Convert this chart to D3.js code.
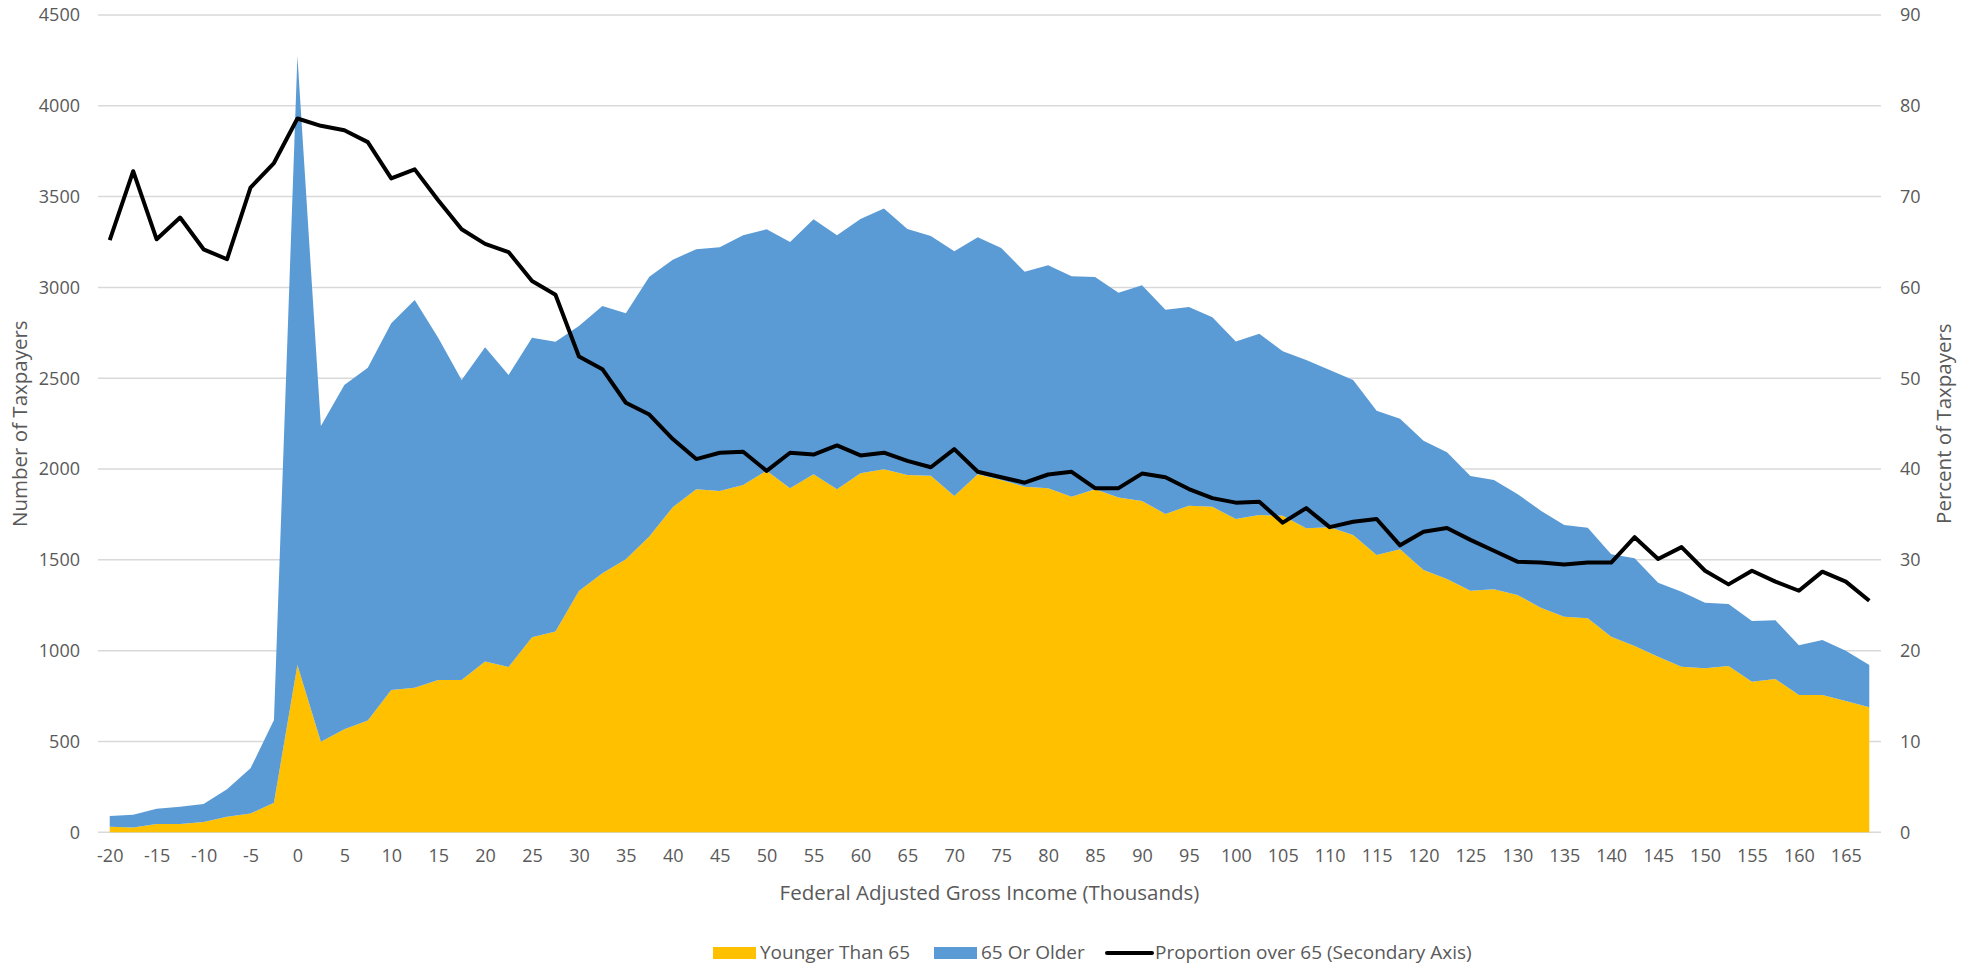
<!DOCTYPE html>
<html>
<head>
<meta charset="utf-8">
<script src="https://cdn.jsdelivr.net/npm/d3@7/dist/d3.min.js"></script>
<style>
body { margin: 0; background: #fff; }
text { font-family: "Open Sans", Lato, sans-serif; fill: #595959; }
</style>
</head>
<body>
<script>
"use strict";

// income brackets, in thousands
let income = [-20, -17.5, -15, -12.5, -10, -7.5, -5, -2.5, 0, 2.5, 5, 7.5, 10, 12.5, 15, 17.5,
    20, 22.5, 25, 27.5, 30, 32.5, 35, 37.5, 40, 42.5, 45, 47.5, 50, 52.5, 55, 57.5,
    60, 62.5, 65, 67.5, 70, 72.5, 75, 77.5, 80, 82.5, 85, 87.5, 90, 92.5, 95, 97.5,
    100, 102.5, 105, 107.5, 110, 112.5, 115, 117.5, 120, 122.5, 125, 127.5, 130, 132.5,
    135, 137.5, 140, 142.5, 145, 147.5, 150, 152.5, 155, 157.5, 160, 162.5, 165, 167.5];

let tickLabels = [-20, -15, -10, -5, 0, 5, 10, 15, 20, 25, 30, 35, 40, 45, 50, 55, 60, 65, 70,
    75, 80, 85, 90, 95, 100, 105, 110, 115, 120, 125, 130, 135, 140, 145, 150, 155, 160, 165];

let younger = [31, 27, 46, 46, 57, 86, 103, 163, 921, 499,
    567, 615, 784, 796, 839, 839, 941, 910, 1074, 1105,
    1329, 1426, 1503, 1628, 1790, 1889, 1879, 1912, 1991, 1894,
    1971, 1889, 1977, 1999, 1967, 1963, 1852, 1971, 1940, 1903,
    1894, 1848, 1889, 1844, 1824, 1753, 1798, 1792, 1725, 1747,
    1743, 1674, 1679, 1637, 1527, 1558, 1444, 1395, 1330, 1338,
    1307, 1237, 1187, 1178, 1077, 1026, 967, 912, 903, 916,
    829, 844, 756, 756, 723, 688];

let older = [59, 70, 84, 95, 99, 151, 249, 455, 3353, 1738,
    1896, 1943, 2019, 2135, 1884, 1651, 1729, 1608, 1649, 1596,
    1459, 1472, 1355, 1431, 1363, 1321, 1342, 1375, 1329, 1356,
    1404, 1398, 1400, 1435, 1355, 1320, 1347, 1305, 1277, 1184,
    1228, 1213, 1169, 1127, 1188, 1124, 1094, 1044, 978, 998,
    905, 926, 866, 853, 794, 719, 712, 697, 632, 602,
    556, 534, 505, 499, 454, 483, 407, 413, 361, 341,
    334, 323, 274, 303, 277, 233];

// percent of taxpayers 65 or older
let proportion = [65.2, 72.8, 65.3, 67.7, 64.2, 63.1, 71.0, 73.7, 78.6, 77.8,
    77.3, 76.0, 72.0, 73.0, 69.6, 66.4, 64.8, 63.9, 60.7, 59.2,
    52.4, 51.0, 47.3, 46.0, 43.3, 41.1, 41.8, 41.9, 39.8, 41.8,
    41.6, 42.6, 41.5, 41.8, 40.9, 40.2, 42.2, 39.7, 39.1, 38.5,
    39.4, 39.7, 37.9, 37.9, 39.5, 39.1, 37.8, 36.8, 36.3, 36.4,
    34.1, 35.7, 33.6, 34.2, 34.5, 31.6, 33.1, 33.5, 32.2, 31.0,
    29.8, 29.7, 29.5, 29.7, 29.7, 32.5, 30.1, 31.4, 28.8, 27.3,
    28.8, 27.6, 26.6, 28.7, 27.6, 25.5];

let seriesNames = ['Younger Than 65', '65 Or Older', 'Proportion over 65 (Secondary Axis)'];
let colors = ['#ffc000', '#5b9bd5', '#000000'];

let width = 1975, height = 969;
let plot = {left: 98, right: 1881, top: 15, bottom: 832.3};

let svg = d3.select('body')
    .append('svg')
    .attr('width', width)
    .attr('height', height);

let x = d3.scalePoint()
    .domain(income)
    .range([plot.left, plot.right])
    .padding(0.5);

let yLeft = d3.scaleLinear().domain([0, 4500]).range([plot.bottom, plot.top]);
let yRight = d3.scaleLinear().domain([0, 90]).range([plot.bottom, plot.top]);

// gridlines
svg.append('g')
    .selectAll('line')
    .data(yLeft.ticks(9))
    .enter()
    .append('line')
    .attr('x1', plot.left)
    .attr('x2', plot.right)
    .attr('y1', d => yLeft(d))
    .attr('y2', d => yLeft(d))
    .attr('stroke', '#d9d9d9')
    .attr('stroke-width', 1.5);

// stacked areas
let rows = income.map((d, i) => ({income: d, younger: younger[i], older: older[i]}));
let stacked = d3.stack().keys(['younger', 'older'])(rows);

let area = d3.area()
    .x(d => x(d.data.income))
    .y0(d => yLeft(d[0]))
    .y1(d => yLeft(d[1]));

svg.append('g')
    .selectAll('path')
    .data(stacked)
    .enter()
    .append('path')
    .attr('d', area)
    .attr('fill', (d, i) => colors[i]);

// proportion line on the secondary axis
let line = d3.line()
    .x((d, i) => x(income[i]))
    .y(d => yRight(d));

svg.append('path')
    .datum(proportion)
    .attr('d', line)
    .attr('fill', 'none')
    .attr('stroke', colors[2])
    .attr('stroke-width', 4)
    .attr('stroke-linejoin', 'round');

// axes
function styleAxis(g) {
    g.select('.domain').remove();
    g.selectAll('.tick line').remove();
    g.selectAll('text')
        .attr('font-family', null)
        .style('font-size', '18px')
        .style('fill', '#595959');
}

svg.append('g')
    .attr('transform', 'translate(' + plot.left + ',0)')
    .call(d3.axisLeft(yLeft).tickValues(yLeft.ticks(9)).tickFormat(d3.format('d'))
        .tickSize(0).tickPadding(18))
    .call(styleAxis);

svg.append('g')
    .attr('transform', 'translate(' + plot.right + ',0)')
    .call(d3.axisRight(yRight).tickValues(yRight.ticks(9)).tickSize(0).tickPadding(19))
    .call(styleAxis);

svg.append('g')
    .attr('transform', 'translate(0,' + plot.bottom + ')')
    .call(d3.axisBottom(x).tickValues(tickLabels).tickSize(0).tickPadding(17))
    .call(styleAxis);

// axis titles
svg.append('text')
    .attr('x', (plot.left + plot.right) / 2)
    .attr('y', 900)
    .attr('text-anchor', 'middle')
    .style('font-size', '20.5px')
    .text('Federal Adjusted Gross Income (Thousands)');

svg.append('text')
    .attr('transform', 'translate(27,' + (plot.top + plot.bottom) / 2 + ') rotate(-90)')
    .attr('text-anchor', 'middle')
    .style('font-size', '20.5px')
    .text('Number of Taxpayers');

svg.append('text')
    .attr('transform', 'translate(1951,' + (plot.top + plot.bottom) / 2 + ') rotate(-90)')
    .attr('text-anchor', 'middle')
    .style('font-size', '20.5px')
    .text('Percent of Taxpayers');

// legend
let legendX = [713, 934, 1107];
let legend = svg.append('g')
    .selectAll('g')
    .data(seriesNames)
    .enter()
    .append('g')
    .attr('transform', (d, i) => 'translate(' + legendX[i] + ',0)');

legend.filter((d, i) => i < 2)
    .append('rect')
    .attr('x', 0)
    .attr('y', 947)
    .attr('width', 43)
    .attr('height', 12)
    .attr('fill', (d, i) => colors[i]);

legend.filter((d, i) => i === 2)
    .append('line')
    .attr('x1', 0)
    .attr('x2', 45)
    .attr('y1', 953)
    .attr('y2', 953)
    .attr('stroke', colors[2])
    .attr('stroke-width', 4)
    .attr('stroke-linecap', 'round');

legend.append('text')
    .attr('x', (d, i) => i < 2 ? 47 : 48)
    .attr('y', 959)
    .style('font-size', '19px')
    .text(d => d);
</script>
</body>
</html>
